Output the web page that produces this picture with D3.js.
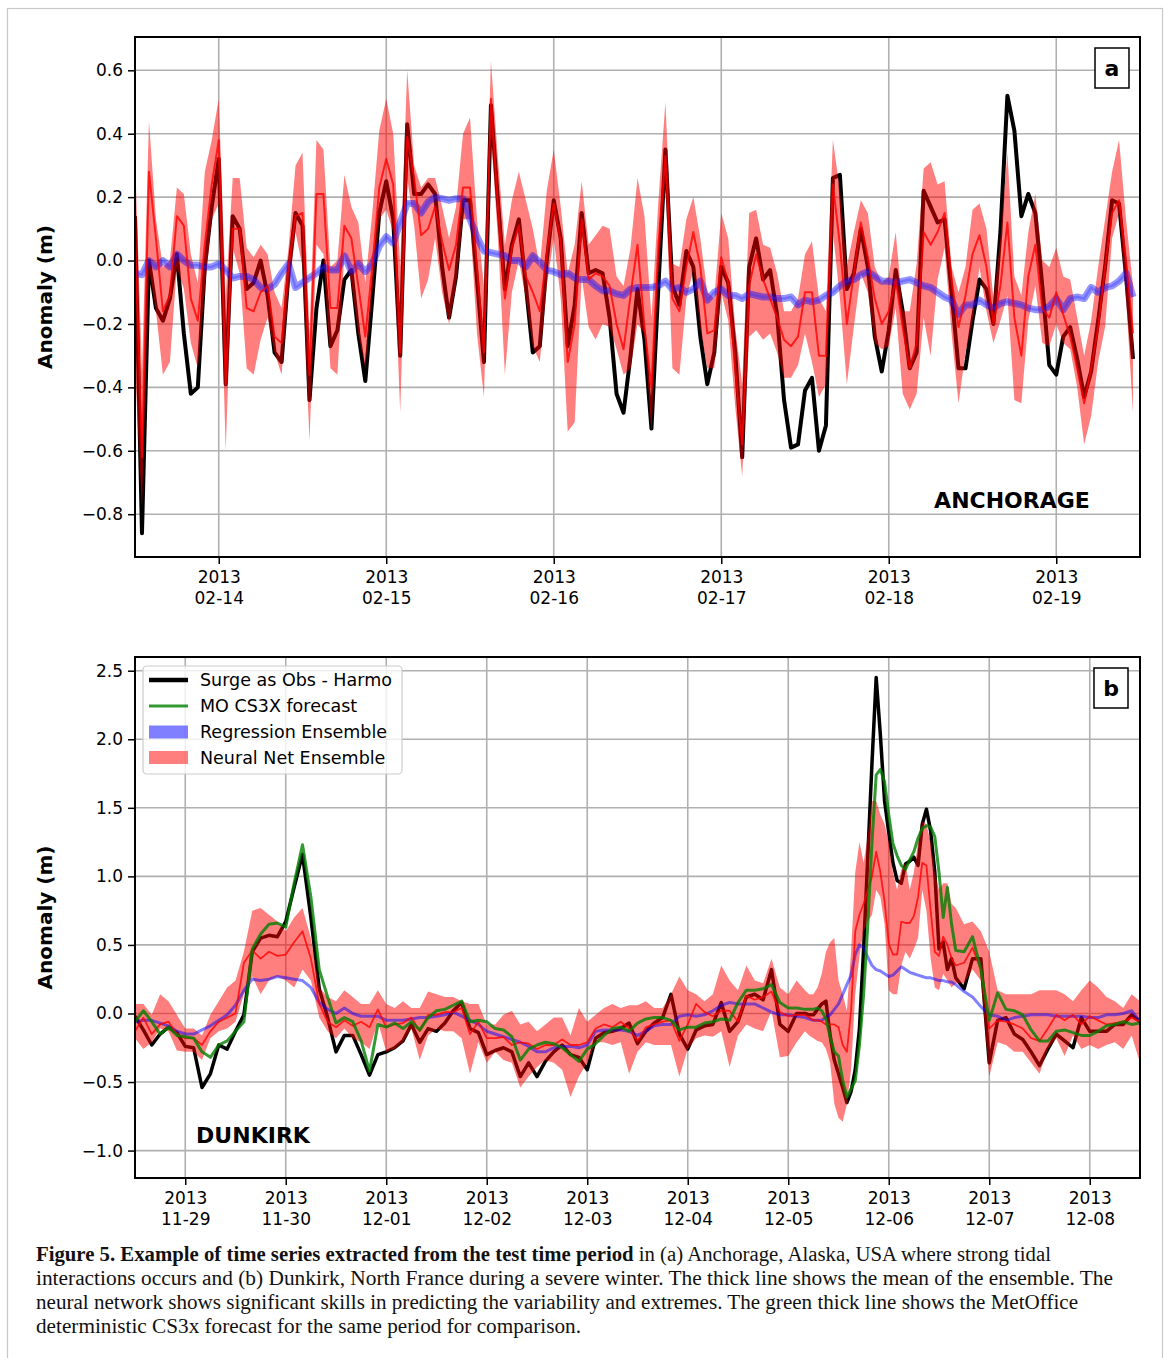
<!DOCTYPE html>
<html>
<head>
<meta charset="utf-8">
<script src="https://cdn.jsdelivr.net/npm/d3@7"></script>
<style>
  html, body { margin: 0; padding: 0; background: #fff; }
  svg { display: block; }
</style>
</head>
<body>
<svg id="fig" width="1171" height="1358"></svg>
<script>
// ---------------- Anchorage (panel a): hourly, from 2013-02-13 12:00 UTC ----------------
const anchorageStart = new Date(Date.UTC(2013, 1, 13, 12));
const anchorageEnd = new Date(Date.UTC(2013, 1, 19, 12));
const anchorageHours = d3.range(0, 144);
const anchorageXTicks = ["2013-02-14", "2013-02-15", "2013-02-16", "2013-02-17", "2013-02-18", "2013-02-19"];
const anchorageYTicks = [-0.8, -0.6, -0.4, -0.2, 0.0, 0.2, 0.4, 0.6];

// Surge as Obs - Harmo
const anchorageObs = [
  0.14,-0.86,0.00,-0.15,-0.19,-0.12,0.02,-0.23,-0.42,-0.40,-0.02,0.17,0.32,-0.39,0.14,0.10,-0.09,-0.07,0.00,-0.11,
  -0.29,-0.32,-0.04,0.15,0.11,-0.44,-0.15,0.00,-0.27,-0.22,-0.06,-0.03,-0.23,-0.38,-0.12,0.15,0.25,
  0.13,-0.30,0.43,0.21,0.21,0.24,0.21,-0.02,-0.18,-0.05,0.19,0.19,-0.06,-0.32,0.49,0.19,-0.09,0.05,0.13,-0.08,
  -0.29,-0.27,0.00,0.19,0.07,-0.27,-0.14,0.15,-0.04,-0.03,-0.04,-0.18,-0.42,-0.48,-0.30,-0.09,
  -0.25,-0.53,-0.08,0.35,-0.08,-0.14,0.03,-0.02,-0.24,-0.39,-0.29,-0.02,-0.07,-0.29,-0.62,-0.02,0.07,-0.06,-0.03,-0.17,
  -0.44,-0.59,-0.58,-0.41,-0.37,-0.60,-0.52,0.26,0.27,-0.09,-0.04,0.10,-0.02,-0.24,-0.35,-0.22,
  -0.03,-0.16,-0.34,-0.29,0.22,0.17,0.12,0.13,-0.10,-0.34,-0.34,-0.19,-0.06,-0.09,-0.20,0.09,0.52,0.41,0.14,0.21,
  0.15,-0.08,-0.33,-0.36,-0.24,-0.21,-0.31,-0.43,-0.35,-0.19,-0.02,0.19,0.18,-0.05,-0.31
];
// Neural net ensemble mean
const anchorageNN = [
  0.10,-0.62,0.28,0.07,-0.16,-0.11,0.14,0.11,-0.12,-0.19,0.05,0.24,0.38,-0.39,0.10,0.10,-0.15,-0.16,-0.10,-0.08,
  -0.24,-0.26,-0.02,0.14,0.15,-0.36,0.21,0.21,-0.15,-0.15,0.11,0.07,-0.08,-0.24,-0.02,0.23,0.32,
  0.24,-0.29,0.39,0.26,0.08,0.10,0.17,0.06,-0.03,0.05,0.23,0.23,-0.02,-0.29,0.51,0.17,-0.12,0.04,0.11,-0.05,
  -0.10,-0.16,0.02,0.18,0.06,-0.32,-0.20,0.13,-0.06,-0.04,-0.05,-0.08,-0.20,-0.28,-0.11,0.05,
  -0.21,-0.40,0.05,0.33,-0.12,-0.16,-0.02,0.09,-0.02,-0.23,-0.22,0.01,-0.07,-0.34,-0.58,-0.08,0.02,-0.06,-0.12,-0.18,
  -0.25,-0.27,-0.24,-0.10,-0.10,-0.30,-0.30,0.24,0.05,-0.20,-0.04,0.12,0.01,-0.12,-0.20,-0.16,
  -0.06,-0.21,-0.34,-0.26,0.09,0.05,0.09,0.15,-0.06,-0.21,-0.11,0.02,0.08,-0.02,-0.20,-0.08,0.12,-0.18,-0.30,-0.05,
  0.05,-0.15,-0.18,-0.10,-0.17,-0.24,-0.34,-0.45,-0.34,-0.21,-0.02,0.15,0.19,0.00,-0.23
];
// Neural net ensemble spread (upper / lower)
const anchorageNNHi = [
  0.33,-0.35,0.44,0.13,-0.02,0.00,0.23,0.21,0.02,-0.07,0.28,0.38,0.51,-0.11,0.26,0.26,0.04,0.01,0.05,0.02,
  -0.10,-0.15,0.04,0.30,0.34,-0.23,0.38,0.35,-0.02,0.00,0.27,0.17,0.12,-0.07,0.15,0.41,0.51,
  0.40,-0.02,0.60,0.30,0.23,0.26,0.26,0.17,0.07,0.17,0.40,0.45,0.13,-0.08,0.63,0.32,0.05,0.19,0.28,0.19,
  0.10,-0.02,0.22,0.35,0.17,-0.04,0.05,0.25,0.05,0.08,0.11,0.10,-0.05,-0.08,0.04,0.26,
  0.14,-0.18,0.19,0.50,-0.01,-0.02,0.13,0.20,0.07,-0.10,-0.12,0.15,0.07,-0.21,-0.39,0.15,0.16,0.05,0.04,-0.04,
  -0.16,-0.16,-0.12,0.02,0.06,-0.12,-0.16,0.38,0.22,-0.02,0.09,0.19,0.15,-0.02,-0.07,-0.05,
  0.09,-0.16,-0.16,-0.01,0.29,0.31,0.24,0.25,-0.02,-0.10,-0.02,0.16,0.18,0.10,-0.12,0.07,0.34,-0.05,-0.11,0.09,
  0.21,0.00,-0.02,0.04,-0.05,-0.06,-0.18,-0.30,-0.19,-0.02,0.13,0.28,0.38,0.13,-0.08
];
const anchorageNNLo = [
  -0.34,-0.78,-0.02,-0.16,-0.36,-0.32,-0.02,-0.09,-0.26,-0.34,-0.09,0.13,0.18,-0.60,0.04,-0.04,-0.34,-0.36,-0.25,-0.18,
  -0.29,-0.36,-0.10,0.09,-0.02,-0.57,0.05,0.02,-0.34,-0.36,0.02,-0.07,-0.23,-0.34,-0.10,0.13,0.16,
  0.09,-0.48,0.26,0.11,-0.12,-0.06,0.07,-0.10,-0.20,-0.08,0.13,0.13,-0.23,-0.43,0.40,0.07,-0.36,-0.10,0.00,-0.12,
  -0.27,-0.32,-0.08,0.07,-0.12,-0.54,-0.51,-0.05,-0.21,-0.25,-0.20,-0.21,-0.28,-0.36,-0.34,-0.20,
  -0.23,-0.54,-0.04,0.25,-0.34,-0.36,-0.12,-0.03,-0.21,-0.34,-0.34,-0.10,-0.19,-0.46,-0.68,-0.24,-0.22,-0.25,-0.23,-0.29,
  -0.37,-0.37,-0.33,-0.23,-0.32,-0.43,-0.39,0.09,-0.12,-0.39,-0.21,-0.04,-0.10,-0.26,-0.28,-0.27,
  -0.15,-0.42,-0.47,-0.42,-0.18,-0.30,-0.06,0.04,-0.23,-0.45,-0.29,-0.19,-0.02,-0.16,-0.26,-0.19,-0.11,-0.44,-0.45,-0.19,
  -0.08,-0.26,-0.27,-0.20,-0.26,-0.28,-0.40,-0.58,-0.49,-0.32,-0.21,0.07,0.15,-0.12,-0.48
];
// Regression ensemble
const anchorageReg = [
  -0.04,-0.045,0.00,-0.02,0.00,-0.02,0.02,0.00,-0.015,-0.015,-0.02,-0.02,-0.01,-0.03,-0.055,-0.05,-0.05,-0.06,-0.085,-0.09,
  -0.075,-0.04,-0.01,-0.085,-0.07,-0.055,-0.04,-0.02,-0.03,-0.03,0.015,-0.035,-0.01,-0.035,-0.01,0.045,0.075,
  0.055,0.12,0.18,0.18,0.15,0.185,0.20,0.195,0.19,0.195,0.195,0.13,0.075,0.03,0.025,0.02,0.015,0.00,0.00,-0.02,
  0.015,-0.005,-0.03,-0.035,-0.045,-0.04,-0.055,-0.06,-0.06,-0.08,-0.095,-0.095,-0.105,-0.11,-0.09,-0.085,
  -0.085,-0.085,-0.08,-0.065,-0.09,-0.085,-0.10,-0.09,-0.065,-0.125,-0.10,-0.09,-0.11,-0.11,-0.12,-0.105,-0.11,-0.115,-0.115,-0.12,
  -0.12,-0.115,-0.14,-0.125,-0.13,-0.125,-0.11,-0.10,-0.08,-0.065,-0.06,-0.045,-0.035,-0.05,-0.065,-0.065,
  -0.07,-0.065,-0.06,-0.07,-0.08,-0.085,-0.10,-0.115,-0.125,-0.17,-0.14,-0.14,-0.125,-0.14,-0.15,-0.135,-0.13,-0.135,-0.14,-0.15,
  -0.155,-0.155,-0.145,-0.12,-0.155,-0.12,-0.115,-0.12,-0.085,-0.10,-0.085,-0.08,-0.065,-0.04,-0.115
];

// ---------------- Dunkirk (panel b): from 2013-11-28 12:00 UTC ----------------
const dunkirkStart = new Date(Date.UTC(2013, 10, 28, 12));
const dunkirkEnd = new Date(Date.UTC(2013, 11, 8, 12));
// two-hourly samples, hourly through the 5-6 December storm
const dunkirkHours = [].concat(d3.range(0, 160, 2), d3.range(160, 197), d3.range(198, 241, 2));
const dunkirkXTicks = ["2013-11-29", "2013-11-30", "2013-12-01", "2013-12-02", "2013-12-03",
                       "2013-12-04", "2013-12-05", "2013-12-06", "2013-12-07", "2013-12-08"];
const dunkirkYTicks = [-1.0, -0.5, 0.0, 0.5, 1.0, 1.5, 2.0, 2.5];

const dunkirkObs = [
  -0.02,-0.12,-0.23,-0.15,-0.10,-0.14,-0.24,-0.25,-0.54,-0.44,-0.23,-0.26,-0.13,-0.01,0.45,0.55,0.57,0.56,0.67,0.92,
  1.16,0.70,0.18,-0.03,-0.28,-0.16,-0.16,-0.30,-0.45,-0.30,
  -0.28,-0.25,-0.20,-0.08,-0.21,-0.11,-0.13,-0.07,0.02,0.08,-0.11,-0.14,-0.30,-0.27,-0.25,-0.28,-0.46,-0.36,-0.46,-0.35,
  -0.28,-0.23,-0.30,-0.32,-0.41,-0.18,-0.14,-0.13,-0.11,-0.07,-0.22,-0.13,-0.07,-0.03,0.14,-0.15,-0.26,-0.12,-0.09,-0.08,
  0.08,-0.13,-0.06,0.12,0.14,0.10,0.32,-0.08,-0.13,0.00,
  0.00,-0.01,-0.01,0.03,0.07,0.09,-0.16,-0.34,-0.44,-0.54,-0.65,-0.57,-0.41,-0.11,0.47,1.15,1.83,2.45,2.03,1.55,
  1.32,1.10,0.97,0.95,1.09,1.11,1.14,1.08,1.38,1.49,1.33,1.03,0.47,0.52,0.32,0.40,0.26,
  0.18,0.40,0.40,-0.36,-0.05,-0.03,-0.15,-0.19,-0.28,-0.38,-0.26,-0.15,-0.20,-0.25,-0.03,-0.13,-0.13,-0.13,-0.08,-0.08,
  -0.01,-0.06
];
const dunkirkMO = [
  -0.06,0.02,-0.06,-0.15,-0.10,-0.16,-0.17,-0.18,-0.28,-0.32,-0.23,-0.20,-0.13,-0.06,0.47,0.58,0.65,0.66,0.63,0.95,
  1.23,0.85,0.32,0.12,-0.07,-0.03,-0.06,-0.20,-0.42,-0.08,
  -0.10,-0.07,-0.11,-0.06,-0.12,-0.03,0.02,0.03,0.06,0.09,-0.06,-0.05,-0.06,-0.11,-0.12,-0.17,-0.34,-0.26,-0.23,-0.21,
  -0.22,-0.25,-0.30,-0.35,-0.26,-0.22,-0.16,-0.11,-0.10,-0.13,-0.07,-0.04,-0.03,-0.03,-0.05,-0.12,-0.10,-0.10,-0.07,-0.06,
  -0.04,-0.05,0.08,0.17,0.17,0.18,0.21,0.08,0.04,0.04,
  0.03,0.03,0.03,0.04,0.02,-0.04,-0.17,-0.28,-0.31,-0.49,-0.61,-0.55,-0.49,-0.23,0.14,0.65,1.25,1.74,1.78,1.69,
  1.45,1.24,1.15,1.08,1.05,1.12,1.18,1.28,1.35,1.37,1.36,1.29,1.03,0.70,0.92,0.65,0.46,
  0.45,0.56,0.32,-0.05,0.15,0.03,0.02,-0.01,-0.12,-0.20,-0.20,-0.13,-0.12,-0.14,-0.16,-0.16,-0.13,-0.09,-0.08,-0.06,
  -0.08,-0.07
];
const dunkirkNN = [
  -0.13,-0.03,-0.15,-0.08,-0.06,-0.15,-0.18,-0.18,-0.23,-0.13,-0.06,-0.03,0.00,0.37,0.46,0.40,0.45,0.42,0.43,0.52,
  0.60,0.40,0.07,-0.06,-0.10,-0.05,-0.09,-0.06,-0.10,0.03,
  -0.10,-0.08,-0.07,-0.03,-0.13,-0.01,-0.01,0.01,0.01,0.04,-0.15,-0.06,-0.18,-0.18,-0.17,-0.23,-0.21,-0.22,-0.26,-0.23,
  -0.23,-0.19,-0.23,-0.23,-0.21,-0.11,-0.08,-0.10,-0.06,-0.11,-0.20,-0.10,-0.08,-0.06,-0.05,-0.20,-0.08,0.07,0.01,-0.02,
  0.02,0.02,-0.06,0.13,0.10,0.12,0.16,0.01,-0.02,-0.01,
  -0.01,-0.03,-0.05,-0.05,-0.06,-0.08,-0.08,-0.08,-0.10,-0.23,-0.28,0.02,0.60,0.72,0.80,0.90,1.00,1.18,1.03,0.82,
  0.51,0.43,0.43,0.67,0.66,0.66,0.71,0.85,1.10,1.08,0.75,0.45,0.42,0.56,0.50,0.40,0.35,
  0.37,0.48,0.32,-0.11,-0.05,-0.06,-0.08,-0.11,-0.18,-0.20,-0.11,-0.01,-0.05,-0.01,-0.08,-0.02,-0.05,-0.08,-0.07,-0.06,
  -0.03,-0.06
];
const dunkirkNNHi = [
  0.07,0.07,-0.01,0.14,0.09,-0.01,-0.11,-0.11,-0.16,-0.01,0.09,0.19,0.24,0.45,0.75,0.77,0.72,0.67,0.60,0.70,
  0.77,0.55,0.19,0.12,0.09,0.17,0.12,0.07,0.07,0.17,
  0.07,0.04,0.09,0.04,0.04,0.16,0.14,0.12,0.12,0.09,0.07,0.07,-0.08,-0.08,-0.01,0.02,-0.08,-0.06,-0.13,-0.08,
  -0.03,-0.03,-0.16,0.04,-0.06,-0.01,0.04,0.07,0.04,0.06,0.06,0.09,0.04,0.04,0.14,0.27,0.17,0.14,0.09,0.14,
  0.35,0.24,0.17,0.35,0.24,0.22,0.40,0.19,0.14,0.24,
  0.17,0.14,0.14,0.19,0.29,0.45,0.52,0.55,0.24,0.14,0.02,0.45,1.03,1.25,1.10,1.30,1.55,1.55,1.45,1.38,
  1.25,1.03,0.90,1.05,1.10,0.90,1.03,1.25,1.40,1.38,1.25,1.03,0.90,0.95,0.95,0.80,0.77,
  0.65,0.67,0.60,0.45,0.17,0.14,0.14,0.14,0.14,0.17,0.17,0.17,0.14,0.09,0.17,0.24,0.19,0.12,0.09,0.04,
  0.14,0.09
];
const dunkirkNNLo = [
  -0.18,-0.26,-0.21,-0.11,-0.13,-0.27,-0.28,-0.28,-0.34,-0.18,-0.13,-0.11,-0.06,0.14,0.27,0.14,0.24,0.27,0.24,0.19,
  0.32,0.24,-0.03,-0.13,-0.18,-0.11,-0.18,-0.21,-0.26,-0.06,
  -0.28,-0.26,-0.21,-0.11,-0.34,-0.16,-0.11,-0.13,-0.13,-0.18,-0.44,-0.21,-0.36,-0.28,-0.34,-0.36,-0.54,-0.46,-0.39,-0.34,
  -0.36,-0.41,-0.61,-0.46,-0.36,-0.21,-0.21,-0.23,-0.21,-0.44,-0.28,-0.21,-0.23,-0.23,-0.23,-0.46,-0.26,-0.18,-0.16,-0.17,
  -0.13,-0.39,-0.16,-0.08,-0.11,-0.13,0.02,-0.32,-0.31,-0.21,
  -0.13,-0.16,-0.18,-0.20,-0.21,-0.26,-0.36,-0.66,-0.76,-0.79,-0.66,-0.41,0.14,0.42,0.60,0.67,0.72,0.90,0.85,0.65,
  0.17,0.14,0.14,0.35,0.45,0.40,0.47,0.55,0.90,0.75,0.40,0.19,0.17,0.29,0.24,0.19,0.22,
  0.22,0.32,0.24,-0.46,-0.21,-0.23,-0.28,-0.28,-0.36,-0.44,-0.26,-0.18,-0.31,-0.16,-0.26,-0.23,-0.26,-0.23,-0.21,-0.26,
  -0.16,-0.36
];
const dunkirkReg = [
  -0.06,-0.05,-0.05,-0.07,-0.09,-0.13,-0.15,-0.15,-0.12,-0.09,-0.05,-0.01,0.06,0.17,0.25,0.24,0.25,0.27,0.26,0.25,
  0.24,0.19,0.08,0.03,0.00,0.04,0.00,-0.02,-0.02,-0.02,
  -0.05,-0.05,-0.05,-0.04,-0.03,-0.03,-0.02,-0.01,0.01,-0.02,-0.05,-0.08,-0.13,-0.15,-0.17,-0.19,-0.21,-0.24,-0.28,-0.28,
  -0.25,-0.24,-0.24,-0.25,-0.23,-0.13,-0.12,-0.12,-0.12,-0.13,-0.16,-0.13,-0.09,-0.08,-0.08,-0.02,-0.01,-0.02,-0.01,0.02,
  0.06,0.08,0.07,0.07,0.07,0.04,0.01,-0.01,-0.01,-0.02,
  -0.03,-0.04,-0.05,-0.05,-0.05,-0.03,-0.01,0.03,0.07,0.14,0.21,0.28,0.43,0.50,0.48,0.41,0.35,0.32,0.31,0.29,
  0.27,0.28,0.31,0.34,0.32,0.30,0.29,0.28,0.27,0.26,0.26,0.25,0.24,0.24,0.23,0.23,0.21,
  0.16,0.12,0.05,-0.01,-0.02,-0.05,-0.03,-0.02,-0.01,-0.01,-0.01,-0.02,-0.02,-0.02,-0.02,-0.03,-0.03,-0.01,-0.01,0.00,
  0.02,-0.06
];

const legendLabels = ["Surge as Obs - Harmo", "MO CS3X forecast", "Regression Ensemble", "Neural Net Ensemble"];
const captionBold = "Figure 5. Example of time series extracted from the test time period";
const captionLines = [
  " in (a) Anchorage, Alaska, USA where strong tidal",
  "interactions occurs and (b) Dunkirk, North France during a severe winter. The thick line shows the mean of the ensemble. The",
  "neural network shows significant skills in predicting the variability and extremes. The green thick line shows the MetOffice",
  "deterministic CS3x forecast for the same period for comparison."
];

// ---------------- drawing ----------------
const svg = d3.select("#fig");
const FONT = "'DejaVu Sans', sans-serif";
const HOUR = 3600000;
const GRID = "#b0b0b0";
const parseDay = d3.utcParse("%Y-%m-%d");

// light outer frame of the figure
svg.append("rect")
  .attr("x", 7.5).attr("y", 8.5).attr("width", 1155).attr("height", 1400)
  .attr("fill", "none").attr("stroke", "#c8c8c8").attr("stroke-width", 1.2);

function drawPanel(p) {
  const L = 135, R = 1140;
  const g = svg.append("g");
  const x = d3.scaleUtc().domain([p.start, p.end]).range([L, R]);
  const y = d3.scaleLinear().domain(p.yDomain).range([p.bottom, p.top]);
  const xTicks = p.xTicks.map(parseDay);

  const rows = p.hours.map((h, i) => ({
    t: new Date(p.start.getTime() + h * HOUR),
    obs: p.obs[i], nn: p.nn[i], hi: p.hi[i], lo: p.lo[i], reg: p.reg[i],
    mo: p.mo ? p.mo[i] : null
  }));

  // grid
  g.append("g").selectAll("line").data(xTicks).join("line")
    .attr("x1", d => x(d)).attr("x2", d => x(d))
    .attr("y1", p.top).attr("y2", p.bottom)
    .attr("stroke", GRID).attr("stroke-width", 1.6);
  g.append("g").selectAll("line").data(p.yTicks).join("line")
    .attr("x1", L).attr("x2", R)
    .attr("y1", d => y(d)).attr("y2", d => y(d))
    .attr("stroke", GRID).attr("stroke-width", 1.6);

  const clipId = "clip-" + p.id;
  g.append("clipPath").attr("id", clipId)
    .append("rect").attr("x", L).attr("y", p.top).attr("width", R - L).attr("height", p.bottom - p.top);
  const plot = g.append("g").attr("clip-path", `url(#${clipId})`);

  const lineOf = key => d3.line().x(d => x(d.t)).y(d => y(d[key]));

  // observed surge (under the translucent ensemble band)
  plot.append("path").datum(rows)
    .attr("d", lineOf("obs"))
    .attr("fill", "none").attr("stroke", "#000").attr("stroke-width", p.obsWidth)
    .attr("stroke-linejoin", "round");

  // neural net ensemble spread
  plot.append("path").datum(rows)
    .attr("d", d3.area().x(d => x(d.t)).y0(d => y(d.lo)).y1(d => y(d.hi)))
    .attr("fill", "#ff0000").attr("fill-opacity", 0.5);

  // regression ensemble
  p.regStrokes.forEach(s => {
    plot.append("path").datum(rows)
      .attr("d", lineOf("reg"))
      .attr("fill", "none").attr("stroke", s.color).attr("stroke-opacity", s.opacity)
      .attr("stroke-width", s.width).attr("stroke-linejoin", "round");
  });

  // neural net ensemble mean
  plot.append("path").datum(rows)
    .attr("d", lineOf("nn"))
    .attr("fill", "none").attr("stroke", "#ff0000").attr("stroke-opacity", 0.8)
    .attr("stroke-width", p.nnWidth).attr("stroke-linejoin", "round");

  // deterministic forecast
  if (p.mo) {
    plot.append("path").datum(rows)
      .attr("d", lineOf("mo"))
      .attr("fill", "none").attr("stroke", "#008000").attr("stroke-opacity", 0.8)
      .attr("stroke-width", 3).attr("stroke-linejoin", "round");
  }

  // frame
  g.append("rect").attr("x", L).attr("y", p.top).attr("width", R - L).attr("height", p.bottom - p.top)
    .attr("fill", "none").attr("stroke", "#000").attr("stroke-width", 2);

  // y axis
  const yAxis = g.append("g").attr("transform", `translate(${L},0)`)
    .call(d3.axisLeft(y).tickValues(p.yTicks).tickSize(7).tickPadding(5).tickFormat(d3.format(".1f")));
  yAxis.select(".domain").remove();
  yAxis.selectAll(".tick line").attr("stroke", "#000").attr("stroke-width", 1.5);
  yAxis.selectAll(".tick text").attr("font-family", FONT).attr("font-size", 17).attr("fill", "#000");

  // x axis with two-line date labels
  const xAxis = g.append("g").attr("transform", `translate(0,${p.bottom})`)
    .call(d3.axisBottom(x).tickValues(xTicks).tickSize(7).tickFormat(""));
  xAxis.select(".domain").remove();
  xAxis.selectAll(".tick line").attr("stroke", "#000").attr("stroke-width", 1.5);
  xAxis.selectAll(".tick").each(function (d) {
    const t = d3.select(this).append("text")
      .attr("font-family", FONT).attr("font-size", 17).attr("fill", "#000")
      .attr("text-anchor", "middle");
    t.append("tspan").attr("x", 0).attr("y", 26).text(d3.utcFormat("%Y")(d));
    t.append("tspan").attr("x", 0).attr("y", 46.5).text(d3.utcFormat("%m-%d")(d));
  });

  // y label
  g.append("text")
    .attr("transform", `translate(45,${(p.top + p.bottom) / 2}) rotate(-90)`)
    .attr("text-anchor", "middle").attr("dy", "0.35em")
    .attr("font-family", FONT).attr("font-weight", "bold").attr("font-size", 20)
    .text("Anomaly (m)");

  // station name
  g.append("text")
    .attr("x", p.station.x).attr("y", p.station.y)
    .attr("text-anchor", "middle")
    .attr("font-family", FONT).attr("font-weight", "bold").attr("font-size", 22)
    .text(p.station.name);

  // panel letter
  g.append("rect").attr("x", p.letter.x).attr("y", p.letter.y).attr("width", 34).attr("height", 40)
    .attr("fill", "#fff").attr("stroke", "#000").attr("stroke-width", 1.5);
  g.append("text").attr("x", p.letter.x + 17).attr("y", p.letter.y + 20).attr("dy", "0.35em")
    .attr("text-anchor", "middle")
    .attr("font-family", FONT).attr("font-weight", "bold").attr("font-size", 22)
    .text(p.letter.text);

  return g;
}

drawPanel({
  id: "a", start: anchorageStart, end: anchorageEnd, hours: anchorageHours,
  top: 37, bottom: 557, yDomain: [-0.935, 0.705],
  xTicks: anchorageXTicks, yTicks: anchorageYTicks,
  obs: anchorageObs, nn: anchorageNN, hi: anchorageNNHi, lo: anchorageNNLo, reg: anchorageReg,
  obsWidth: 4, nnWidth: 2,
  regStrokes: [
    { color: "#0000ff", opacity: 0.42, width: 7 },
    { color: "#3030ff", opacity: 0.35, width: 2.5 }
  ],
  station: { name: "ANCHORAGE", x: 1012, y: 508 },
  letter: { text: "a", x: 1095, y: 48 }
});

const panelB = drawPanel({
  id: "b", start: dunkirkStart, end: dunkirkEnd, hours: dunkirkHours,
  top: 657, bottom: 1178, yDomain: [-1.2, 2.6],
  xTicks: dunkirkXTicks, yTicks: dunkirkYTicks,
  obs: dunkirkObs, nn: dunkirkNN, hi: dunkirkNNHi, lo: dunkirkNNLo, reg: dunkirkReg, mo: dunkirkMO,
  obsWidth: 3.5, nnWidth: 1.8,
  regStrokes: [
    { color: "#0000ff", opacity: 0.5, width: 3 }
  ],
  station: { name: "DUNKIRK", x: 253, y: 1143 },
  letter: { text: "b", x: 1094, y: 668 }
});

// legend (panel b)
const leg = panelB.append("g");
leg.append("rect").attr("x", 143).attr("y", 666).attr("width", 259).attr("height", 108).attr("rx", 4)
  .attr("fill", "#fff").attr("fill-opacity", 0.8).attr("stroke", "#cccccc").attr("stroke-width", 1.2);
const legendRowsY = [680, 706, 732, 757.5];
const legendKeys = [
  { type: "line", color: "#000", opacity: 1, width: 4.5 },
  { type: "line", color: "#008000", opacity: 0.8, width: 3 },
  { type: "patch", color: "#0000ff", opacity: 0.5 },
  { type: "patch", color: "#ff0000", opacity: 0.5 }
];
legendKeys.forEach((k, i) => {
  const cy = legendRowsY[i];
  if (k.type === "line") {
    leg.append("line").attr("x1", 149).attr("x2", 188).attr("y1", cy).attr("y2", cy)
      .attr("stroke", k.color).attr("stroke-opacity", k.opacity).attr("stroke-width", k.width);
  } else {
    leg.append("rect").attr("x", 149).attr("y", cy - 6.5).attr("width", 39).attr("height", 13)
      .attr("fill", k.color).attr("fill-opacity", k.opacity);
  }
  leg.append("text").attr("x", 200).attr("y", cy).attr("dy", "0.36em")
    .attr("font-family", FONT).attr("font-size", 17.5).attr("fill", "#000")
    .text(legendLabels[i]);
});

// caption
const CAP_FONT = "'Liberation Serif', 'Times New Roman', serif";
const capBase = [1261, 1285, 1309, 1333];
const capWidths = [1015, 1077, 1042, 545];
captionLines.forEach((line, i) => {
  const t = svg.append("text").attr("x", 36).attr("y", capBase[i])
    .attr("font-family", CAP_FONT).attr("font-size", 20).attr("fill", "#111");
  if (i === 0) t.append("tspan").attr("font-weight", "bold").text(captionBold);
  t.append("tspan").text(line);
  t.attr("textLength", capWidths[i]).attr("lengthAdjust", "spacingAndGlyphs");
});
</script>
</body>
</html>
